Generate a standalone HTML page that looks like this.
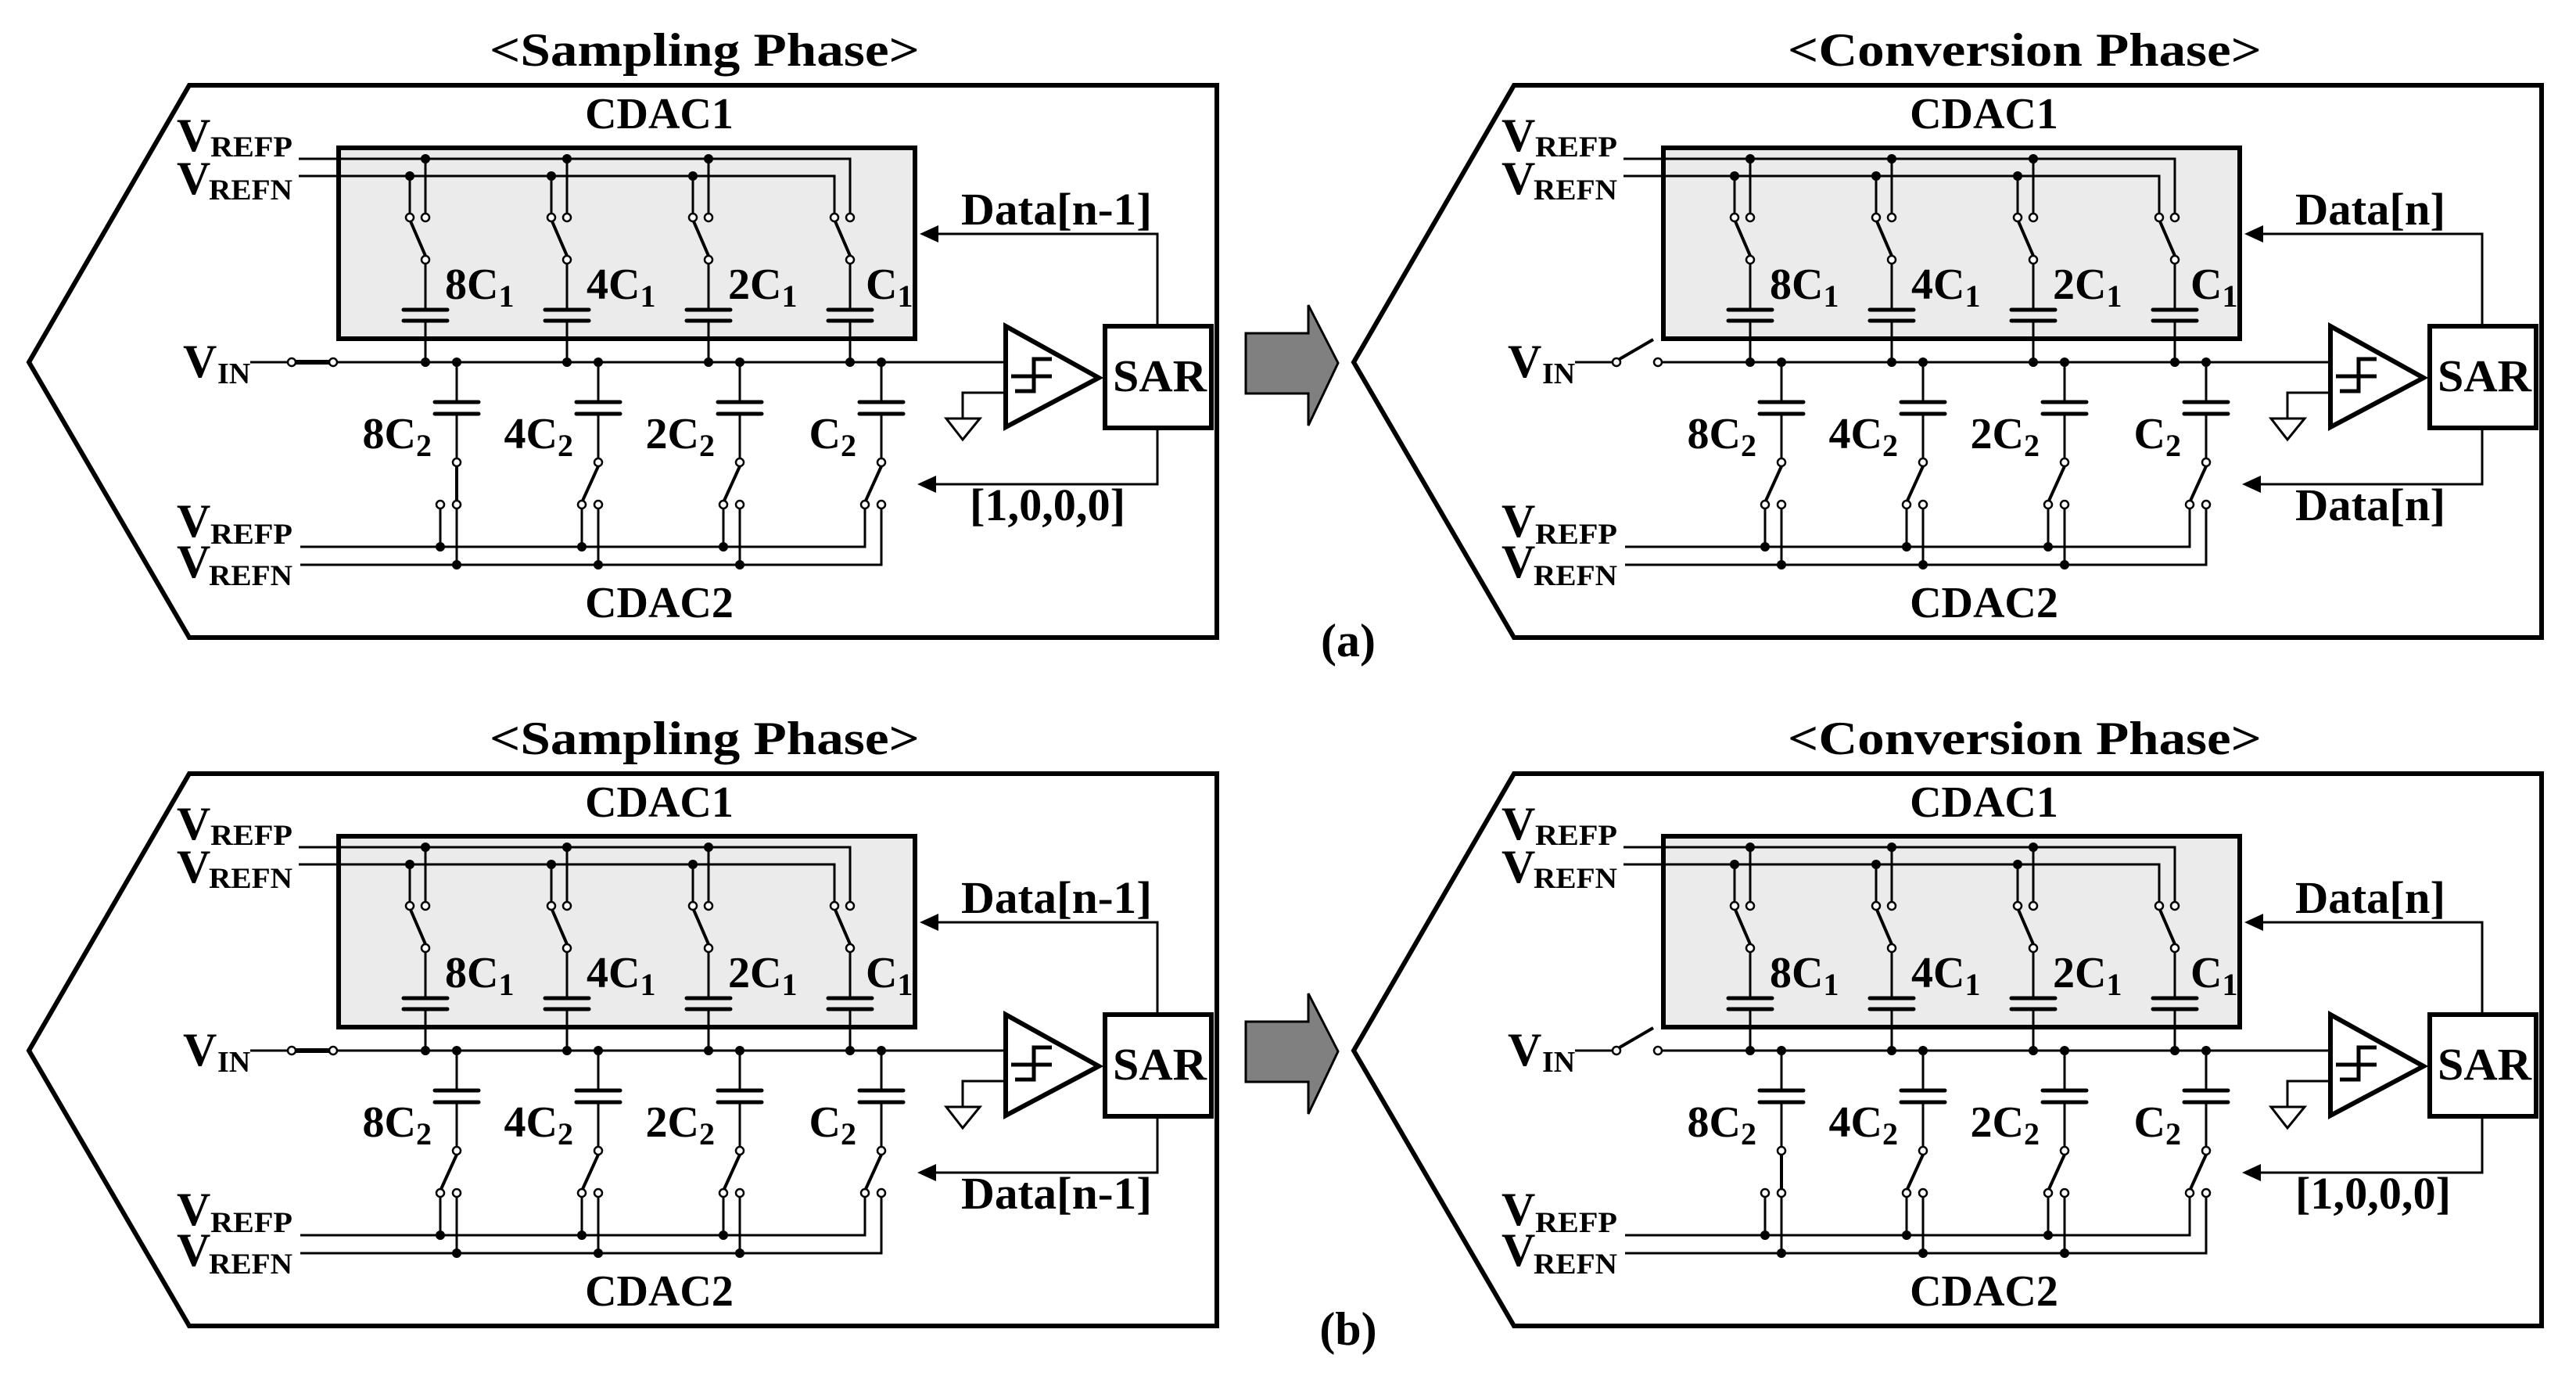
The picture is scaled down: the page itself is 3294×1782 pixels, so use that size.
<!DOCTYPE html>
<html><head><meta charset="utf-8"><style>
html,body{margin:0;padding:0;background:#fff;}
svg{display:block;}
text{font-family:"Liberation Serif","Times New Roman",serif;font-weight:bold;fill:#000;}
</style></head><body>
<svg width="3294" height="1782" viewBox="0 0 3294 1782" xmlns="http://www.w3.org/2000/svg">
<defs>
<g id="base">
<g stroke="#000" fill="none" stroke-width="3">
<polygon points="242,109 1556,109 1556,815 242,815 37,463" stroke-width="6"/>
<rect x="433" y="189" width="737" height="244" fill="#ebebeb" stroke-width="6"/>
<polyline points="382,203 1087,203 1087,273"/>
<polyline points="382,225 1067,225 1067,273"/>
<line x1="544" y1="203" x2="544" y2="273"/><line x1="524" y1="225" x2="524" y2="273"/>
<line x1="725" y1="203" x2="725" y2="273"/><line x1="705" y1="225" x2="705" y2="273"/>
<line x1="906" y1="203" x2="906" y2="273"/><line x1="886" y1="225" x2="886" y2="273"/>
<line x1="544" y1="337" x2="544" y2="396"/><line x1="544" y1="410" x2="544" y2="463"/>
<line x1="725" y1="337" x2="725" y2="396"/><line x1="725" y1="410" x2="725" y2="463"/>
<line x1="906" y1="337" x2="906" y2="396"/><line x1="906" y1="410" x2="906" y2="463"/>
<line x1="1087" y1="337" x2="1087" y2="396"/><line x1="1087" y1="410" x2="1087" y2="463"/>
<line x1="544" y1="327" x2="525" y2="283" stroke-width="4"/>
<line x1="725" y1="327" x2="706" y2="283" stroke-width="4"/>
<line x1="906" y1="327" x2="887" y2="283" stroke-width="4"/>
<line x1="1087" y1="327" x2="1068" y2="283" stroke-width="4"/>
<g stroke-width="5" stroke-linecap="round">
<line x1="516" y1="396" x2="572" y2="396"/><line x1="516" y1="410" x2="572" y2="410"/>
<line x1="697" y1="396" x2="753" y2="396"/><line x1="697" y1="410" x2="753" y2="410"/>
<line x1="878" y1="396" x2="934" y2="396"/><line x1="878" y1="410" x2="934" y2="410"/>
<line x1="1059" y1="396" x2="1115" y2="396"/><line x1="1059" y1="410" x2="1115" y2="410"/>
<line x1="556" y1="514" x2="612" y2="514"/><line x1="556" y1="529" x2="612" y2="529"/>
<line x1="737" y1="514" x2="793" y2="514"/><line x1="737" y1="529" x2="793" y2="529"/>
<line x1="918" y1="514" x2="974" y2="514"/><line x1="918" y1="529" x2="974" y2="529"/>
<line x1="1099" y1="514" x2="1155" y2="514"/><line x1="1099" y1="529" x2="1155" y2="529"/>
</g>
<line x1="320" y1="463" x2="368" y2="463"/>
<line x1="431" y1="463" x2="1286" y2="463"/>
<line x1="584" y1="463" x2="584" y2="514"/><line x1="584" y1="529" x2="584" y2="586"/>
<line x1="765" y1="463" x2="765" y2="514"/><line x1="765" y1="529" x2="765" y2="586"/>
<line x1="946" y1="463" x2="946" y2="514"/><line x1="946" y1="529" x2="946" y2="586"/>
<line x1="1127" y1="463" x2="1127" y2="514"/><line x1="1127" y1="529" x2="1127" y2="586"/>
<polyline points="384,699 1106,699 1106,650"/>
<polyline points="384,722 1127,722 1127,650"/>
<line x1="563" y1="650" x2="563" y2="699"/><line x1="584" y1="650" x2="584" y2="722"/>
<line x1="744" y1="650" x2="744" y2="699"/><line x1="765" y1="650" x2="765" y2="722"/>
<line x1="925" y1="650" x2="925" y2="699"/><line x1="946" y1="650" x2="946" y2="722"/>
<polyline points="1286,502 1231,502 1231,535"/>
<polygon points="1210,535 1253,535 1231,562"/>
<polygon points="1286,417 1286,546 1405,483" stroke-width="6" fill="#fff"/>
<g stroke-width="5">
<polyline points="1345,459 1322,459 1322,500 1298,500"/>
<line x1="1293" y1="481" x2="1345" y2="481"/>
</g>
<rect x="1413" y="417" width="136" height="130" stroke-width="6" fill="#fff"/>
<polyline points="1480,417 1480,299 1198,299"/>
<polyline points="1480,547 1480,619 1196,619"/>
</g>
<polygon points="1176,299 1200,288 1200,310" fill="#000"/>
<polygon points="1173,619 1197,608 1197,630" fill="#000"/>
<g fill="#000">
<circle cx="544" cy="203" r="6"/><circle cx="524" cy="225" r="6"/>
<circle cx="725" cy="203" r="6"/><circle cx="705" cy="225" r="6"/>
<circle cx="906" cy="203" r="6"/><circle cx="886" cy="225" r="6"/>
<circle cx="544" cy="463" r="6"/><circle cx="725" cy="463" r="6"/><circle cx="906" cy="463" r="6"/><circle cx="1087" cy="463" r="6"/>
<circle cx="584" cy="463" r="6"/><circle cx="765" cy="463" r="6"/><circle cx="946" cy="463" r="6"/><circle cx="1127" cy="463" r="6"/>
<circle cx="563" cy="699" r="6"/><circle cx="584" cy="722" r="6"/>
<circle cx="744" cy="699" r="6"/><circle cx="765" cy="722" r="6"/>
<circle cx="925" cy="699" r="6"/><circle cx="946" cy="722" r="6"/>
</g>
<g fill="#fff" stroke="#000" stroke-width="2.5">
<circle cx="524" cy="278" r="5"/><circle cx="544" cy="278" r="5"/><circle cx="544" cy="332" r="5"/>
<circle cx="705" cy="278" r="5"/><circle cx="725" cy="278" r="5"/><circle cx="725" cy="332" r="5"/>
<circle cx="886" cy="278" r="5"/><circle cx="906" cy="278" r="5"/><circle cx="906" cy="332" r="5"/>
<circle cx="1067" cy="278" r="5"/><circle cx="1087" cy="278" r="5"/><circle cx="1087" cy="332" r="5"/>
<circle cx="584" cy="591" r="5"/><circle cx="563" cy="645" r="5"/><circle cx="584" cy="645" r="5"/>
<circle cx="765" cy="591" r="5"/><circle cx="744" cy="645" r="5"/><circle cx="765" cy="645" r="5"/>
<circle cx="946" cy="591" r="5"/><circle cx="925" cy="645" r="5"/><circle cx="946" cy="645" r="5"/>
<circle cx="1127" cy="591" r="5"/><circle cx="1106" cy="645" r="5"/><circle cx="1127" cy="645" r="5"/>
<circle cx="373" cy="463" r="5"/><circle cx="426" cy="463" r="5"/>
</g>
</g>
<line id="vclosed" x1="378" y1="463" x2="421" y2="463" stroke="#000" stroke-width="6"/>
<line id="vopen" x1="377" y1="459" x2="420" y2="434" stroke="#000" stroke-width="4"/>
<g id="bleft" stroke="#000" stroke-width="4">
<line x1="765" y1="596" x2="745" y2="640"/>
<line x1="946" y1="596" x2="926" y2="640"/>
<line x1="1127" y1="596" x2="1107" y2="640"/>
</g>
<line id="b1right" x1="584" y1="596" x2="584" y2="640" stroke="#000" stroke-width="4"/>
<line id="b1left" x1="584" y1="596" x2="564" y2="640" stroke="#000" stroke-width="4"/>
</defs>

<!-- Gray arrows -->
<polygon points="1593,426 1673,426 1673,390 1711,464 1673,544 1673,503 1593,503" fill="#808080" stroke="#000" stroke-width="3"/>
<polygon points="1593,1306 1673,1306 1673,1270 1711,1344 1673,1424 1673,1383 1593,1383" fill="#808080" stroke="#000" stroke-width="3"/>

<text x="1724" y="839" font-size="60" text-anchor="middle">(a)</text>
<text x="1724" y="1719" font-size="60" text-anchor="middle">(b)</text>

<!-- Panel A left: sampling -->
<g>
<use href="#base"/><use href="#vclosed"/><use href="#bleft"/><use href="#b1right"/>
<text x="626" y="84" font-size="60" textLength="550" lengthAdjust="spacingAndGlyphs">&lt;Sampling Phase&gt;</text>
<text x="843" y="164" font-size="56" text-anchor="middle">CDAC1</text>
<text x="843" y="789" font-size="56" text-anchor="middle">CDAC2</text>
<text x="226" y="193" font-size="60">V</text><text x="269" y="200" font-size="37" textLength="105" lengthAdjust="spacingAndGlyphs">REFP</text>
<text x="226" y="248" font-size="60">V</text><text x="267" y="255" font-size="37" textLength="107" lengthAdjust="spacingAndGlyphs">REFN</text>
<text x="226" y="686" font-size="60">V</text><text x="269" y="695" font-size="37" textLength="105" lengthAdjust="spacingAndGlyphs">REFP</text>
<text x="226" y="738" font-size="60">V</text><text x="267" y="748" font-size="37" textLength="107" lengthAdjust="spacingAndGlyphs">REFN</text>
<text x="234" y="482" font-size="60">V</text><text x="278" y="490" font-size="38">IN</text>
<text x="569" y="382" font-size="56">8C<tspan font-size="40" dy="10">1</tspan></text>
<text x="750" y="382" font-size="56">4C<tspan font-size="40" dy="10">1</tspan></text>
<text x="931" y="382" font-size="56">2C<tspan font-size="40" dy="10">1</tspan></text>
<text x="1107" y="382" font-size="56">C<tspan font-size="40" dy="10">1</tspan></text>
<text x="552" y="573" font-size="56" text-anchor="end">8C<tspan font-size="40" dy="10">2</tspan></text>
<text x="733" y="573" font-size="56" text-anchor="end">4C<tspan font-size="40" dy="10">2</tspan></text>
<text x="914" y="573" font-size="56" text-anchor="end">2C<tspan font-size="40" dy="10">2</tspan></text>
<text x="1095" y="573" font-size="56" text-anchor="end">C<tspan font-size="40" dy="10">2</tspan></text>
<text x="1423" y="500" font-size="58" textLength="120" lengthAdjust="spacingAndGlyphs">SAR</text>
<text x="1229" y="287" font-size="58" textLength="244" lengthAdjust="spacingAndGlyphs">Data[n-1]</text>
<text x="1240" y="665" font-size="58" textLength="199" lengthAdjust="spacingAndGlyphs">[1,0,0,0]</text>
</g>

<!-- Panel A right: conversion -->
<g transform="translate(1694,0)">
<use href="#base"/><use href="#vopen"/><use href="#bleft"/><use href="#b1left"/>
<text x="592" y="84" font-size="60" textLength="606" lengthAdjust="spacingAndGlyphs">&lt;Conversion Phase&gt;</text>
<text x="843" y="164" font-size="56" text-anchor="middle">CDAC1</text>
<text x="843" y="789" font-size="56" text-anchor="middle">CDAC2</text>
<text x="226" y="193" font-size="60">V</text><text x="269" y="200" font-size="37" textLength="105" lengthAdjust="spacingAndGlyphs">REFP</text>
<text x="226" y="248" font-size="60">V</text><text x="267" y="255" font-size="37" textLength="107" lengthAdjust="spacingAndGlyphs">REFN</text>
<text x="226" y="686" font-size="60">V</text><text x="269" y="695" font-size="37" textLength="105" lengthAdjust="spacingAndGlyphs">REFP</text>
<text x="226" y="738" font-size="60">V</text><text x="267" y="748" font-size="37" textLength="107" lengthAdjust="spacingAndGlyphs">REFN</text>
<text x="234" y="482" font-size="60">V</text><text x="278" y="490" font-size="38">IN</text>
<text x="569" y="382" font-size="56">8C<tspan font-size="40" dy="10">1</tspan></text>
<text x="750" y="382" font-size="56">4C<tspan font-size="40" dy="10">1</tspan></text>
<text x="931" y="382" font-size="56">2C<tspan font-size="40" dy="10">1</tspan></text>
<text x="1107" y="382" font-size="56">C<tspan font-size="40" dy="10">1</tspan></text>
<text x="552" y="573" font-size="56" text-anchor="end">8C<tspan font-size="40" dy="10">2</tspan></text>
<text x="733" y="573" font-size="56" text-anchor="end">4C<tspan font-size="40" dy="10">2</tspan></text>
<text x="914" y="573" font-size="56" text-anchor="end">2C<tspan font-size="40" dy="10">2</tspan></text>
<text x="1095" y="573" font-size="56" text-anchor="end">C<tspan font-size="40" dy="10">2</tspan></text>
<text x="1423" y="500" font-size="58" textLength="120" lengthAdjust="spacingAndGlyphs">SAR</text>
<text x="1241" y="287" font-size="58" textLength="192" lengthAdjust="spacingAndGlyphs">Data[n]</text>
<text x="1241" y="665" font-size="58" textLength="192" lengthAdjust="spacingAndGlyphs">Data[n]</text>
</g>

<!-- Panel B left: sampling -->
<g transform="translate(0,880)">
<use href="#base"/><use href="#vclosed"/><use href="#bleft"/><use href="#b1left"/>
<text x="626" y="84" font-size="60" textLength="550" lengthAdjust="spacingAndGlyphs">&lt;Sampling Phase&gt;</text>
<text x="843" y="164" font-size="56" text-anchor="middle">CDAC1</text>
<text x="843" y="789" font-size="56" text-anchor="middle">CDAC2</text>
<text x="226" y="193" font-size="60">V</text><text x="269" y="200" font-size="37" textLength="105" lengthAdjust="spacingAndGlyphs">REFP</text>
<text x="226" y="248" font-size="60">V</text><text x="267" y="255" font-size="37" textLength="107" lengthAdjust="spacingAndGlyphs">REFN</text>
<text x="226" y="686" font-size="60">V</text><text x="269" y="695" font-size="37" textLength="105" lengthAdjust="spacingAndGlyphs">REFP</text>
<text x="226" y="738" font-size="60">V</text><text x="267" y="748" font-size="37" textLength="107" lengthAdjust="spacingAndGlyphs">REFN</text>
<text x="234" y="482" font-size="60">V</text><text x="278" y="490" font-size="38">IN</text>
<text x="569" y="382" font-size="56">8C<tspan font-size="40" dy="10">1</tspan></text>
<text x="750" y="382" font-size="56">4C<tspan font-size="40" dy="10">1</tspan></text>
<text x="931" y="382" font-size="56">2C<tspan font-size="40" dy="10">1</tspan></text>
<text x="1107" y="382" font-size="56">C<tspan font-size="40" dy="10">1</tspan></text>
<text x="552" y="573" font-size="56" text-anchor="end">8C<tspan font-size="40" dy="10">2</tspan></text>
<text x="733" y="573" font-size="56" text-anchor="end">4C<tspan font-size="40" dy="10">2</tspan></text>
<text x="914" y="573" font-size="56" text-anchor="end">2C<tspan font-size="40" dy="10">2</tspan></text>
<text x="1095" y="573" font-size="56" text-anchor="end">C<tspan font-size="40" dy="10">2</tspan></text>
<text x="1423" y="500" font-size="58" textLength="120" lengthAdjust="spacingAndGlyphs">SAR</text>
<text x="1229" y="287" font-size="58" textLength="244" lengthAdjust="spacingAndGlyphs">Data[n-1]</text>
<text x="1229" y="665" font-size="58" textLength="244" lengthAdjust="spacingAndGlyphs">Data[n-1]</text>
</g>

<!-- Panel B right: conversion -->
<g transform="translate(1694,880)">
<use href="#base"/><use href="#vopen"/><use href="#bleft"/><use href="#b1right"/>
<text x="592" y="84" font-size="60" textLength="606" lengthAdjust="spacingAndGlyphs">&lt;Conversion Phase&gt;</text>
<text x="843" y="164" font-size="56" text-anchor="middle">CDAC1</text>
<text x="843" y="789" font-size="56" text-anchor="middle">CDAC2</text>
<text x="226" y="193" font-size="60">V</text><text x="269" y="200" font-size="37" textLength="105" lengthAdjust="spacingAndGlyphs">REFP</text>
<text x="226" y="248" font-size="60">V</text><text x="267" y="255" font-size="37" textLength="107" lengthAdjust="spacingAndGlyphs">REFN</text>
<text x="226" y="686" font-size="60">V</text><text x="269" y="695" font-size="37" textLength="105" lengthAdjust="spacingAndGlyphs">REFP</text>
<text x="226" y="738" font-size="60">V</text><text x="267" y="748" font-size="37" textLength="107" lengthAdjust="spacingAndGlyphs">REFN</text>
<text x="234" y="482" font-size="60">V</text><text x="278" y="490" font-size="38">IN</text>
<text x="569" y="382" font-size="56">8C<tspan font-size="40" dy="10">1</tspan></text>
<text x="750" y="382" font-size="56">4C<tspan font-size="40" dy="10">1</tspan></text>
<text x="931" y="382" font-size="56">2C<tspan font-size="40" dy="10">1</tspan></text>
<text x="1107" y="382" font-size="56">C<tspan font-size="40" dy="10">1</tspan></text>
<text x="552" y="573" font-size="56" text-anchor="end">8C<tspan font-size="40" dy="10">2</tspan></text>
<text x="733" y="573" font-size="56" text-anchor="end">4C<tspan font-size="40" dy="10">2</tspan></text>
<text x="914" y="573" font-size="56" text-anchor="end">2C<tspan font-size="40" dy="10">2</tspan></text>
<text x="1095" y="573" font-size="56" text-anchor="end">C<tspan font-size="40" dy="10">2</tspan></text>
<text x="1423" y="500" font-size="58" textLength="120" lengthAdjust="spacingAndGlyphs">SAR</text>
<text x="1241" y="287" font-size="58" textLength="192" lengthAdjust="spacingAndGlyphs">Data[n]</text>
<text x="1241" y="665" font-size="58" textLength="199" lengthAdjust="spacingAndGlyphs">[1,0,0,0]</text>
</g>
</svg>
</body></html>
